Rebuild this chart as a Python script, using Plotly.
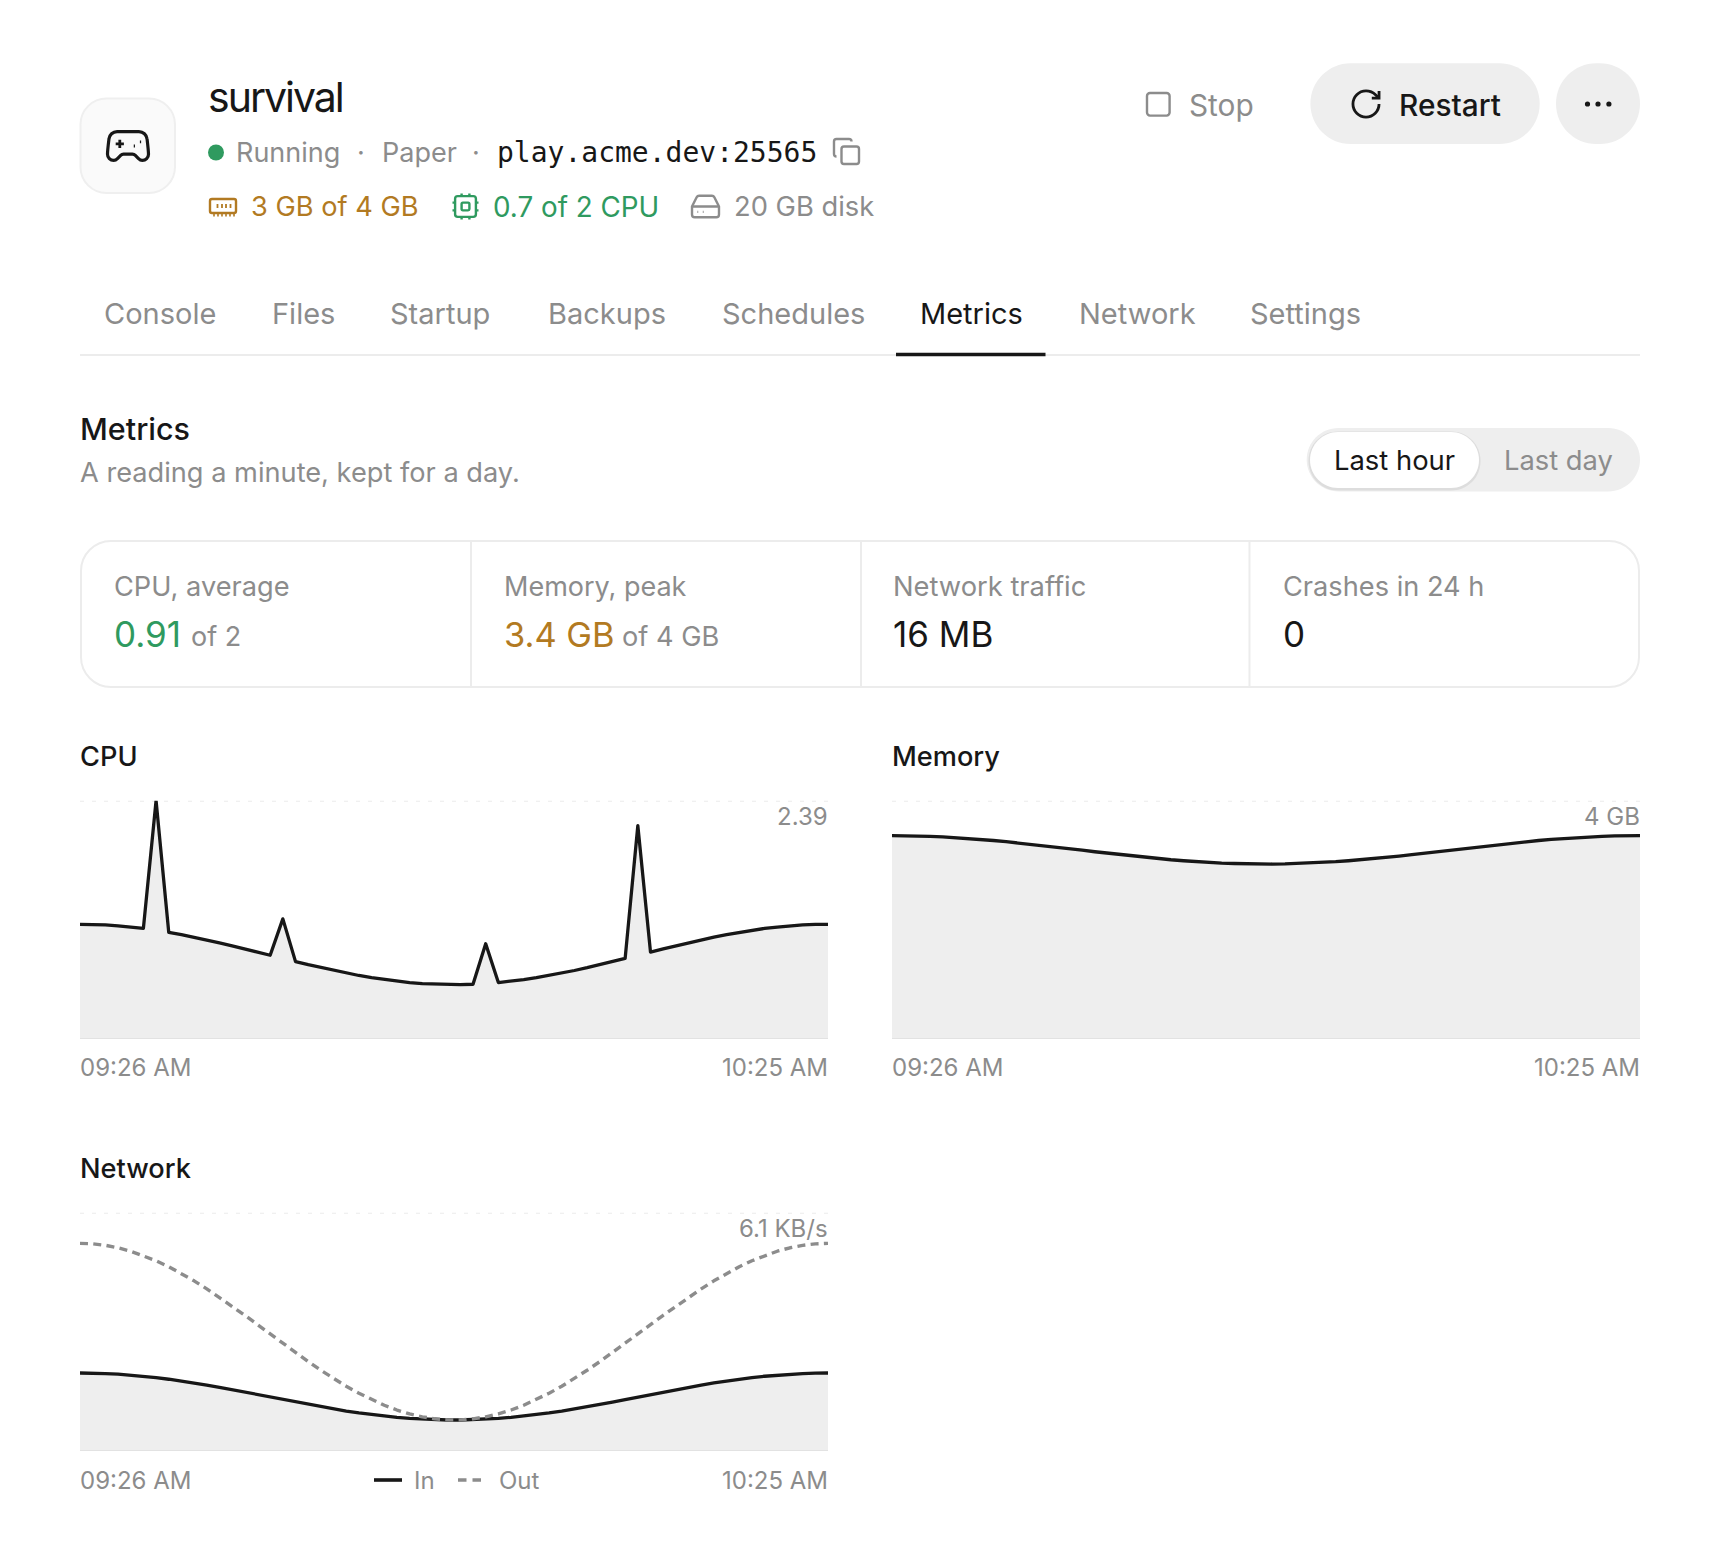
import re

import pandas as pd
import plotly.graph_objects as go

# Page size, everything outside the charts is placed in page pixels
W = 1720
H = 1560

# One reading a minute, 09:26 to 10:25
MINUTES = pd.date_range("2024-01-01 09:26", periods=60, freq="min")

CPU = [
    1.150, 1.149, 1.144, 1.135, 1.123, 1.109, 2.390, 1.070, 1.047, 1.022,
    0.994, 0.965, 0.935, 0.904, 0.872, 0.840, 1.205, 0.776, 0.745, 0.716,
    0.688, 0.661, 0.637, 0.615, 0.596, 0.580, 0.566, 0.556, 0.550, 0.546,
    0.546, 0.549, 0.955, 0.566, 0.579, 0.596, 0.615, 0.637, 0.661, 0.687,
    0.715, 0.745, 0.776, 0.808, 2.140, 0.872, 0.904, 0.935, 0.965, 0.994,
    1.022, 1.047, 1.070, 1.090, 1.109, 1.123, 1.135, 1.144, 1.149, 1.150,
]
MEMORY = [
    3.413, 3.412, 3.408, 3.401, 3.392, 3.380, 3.366, 3.350, 3.332, 3.312,
    3.290, 3.267, 3.244, 3.219, 3.194, 3.169, 3.143, 3.119, 3.094, 3.071,
    3.049, 3.028, 3.009, 2.992, 2.977, 2.964, 2.953, 2.946, 2.940, 2.937,
    2.937, 2.940, 2.946, 2.953, 2.964, 2.977, 2.992, 3.009, 3.028, 3.049,
    3.071, 3.094, 3.119, 3.143, 3.169, 3.194, 3.219, 3.244, 3.267, 3.290,
    3.312, 3.332, 3.350, 3.366, 3.380, 3.392, 3.401, 3.408, 3.412, 3.413,
]
NET_IN = [
    1.997, 1.994, 1.983, 1.967, 1.943, 1.914, 1.878, 1.837, 1.791, 1.741,
    1.687, 1.629, 1.568, 1.506, 1.443, 1.379, 1.315, 1.252, 1.191, 1.132,
    1.076, 1.023, 0.975, 0.932, 0.893, 0.861, 0.835, 0.815, 0.801, 0.794,
    0.794, 0.801, 0.815, 0.835, 0.861, 0.893, 0.932, 0.975, 1.023, 1.076,
    1.132, 1.191, 1.252, 1.315, 1.379, 1.443, 1.506, 1.568, 1.629, 1.687,
    1.741, 1.791, 1.837, 1.878, 1.914, 1.943, 1.967, 1.983, 1.994, 1.997,
]
NET_OUT = [
    5.316, 5.303, 5.265, 5.202, 5.114, 5.003, 4.870, 4.717, 4.544, 4.356,
    4.150, 3.933, 3.707, 3.474, 3.235, 2.995, 2.755, 2.518, 2.288, 2.066,
    1.856, 1.658, 1.479, 1.315, 1.171, 1.049, 0.950, 0.875, 0.824, 0.797,
    0.797, 0.824, 0.875, 0.950, 1.049, 1.171, 1.315, 1.479, 1.658, 1.856,
    2.066, 2.288, 2.518, 2.755, 2.995, 3.235, 3.474, 3.707, 3.933, 4.150,
    4.356, 4.544, 4.717, 4.870, 5.003, 5.114, 5.202, 5.265, 5.303, 5.316,
]

CPU_MAX = 2.39
MEMORY_MAX = 4
NET_MAX = 6.1

TABS = ["Console", "Files", "Startup", "Backups", "Schedules", "Metrics", "Network", "Settings"]
TAB_X = [104, 272, 389.5, 547.5, 721.5, 920, 1078.5, 1249.5]

DARK = "#171717"
GRAY = "#8c8c8c"
AMBER = "#b27a22"
GREEN = "#2f9a5f"
BAND = "#eeeeee"
RULE = "#ececec"
NONE = "rgba(0,0,0,0)"
SANS = "Inter"


def fx(x):
    return x / W


def fy(y):
    return 1 - y / H


def to_paper(path, ox=0, oy=0, k=1):
    # page pixel path to paper coordinates, only absolute M L C Z used here
    out = []
    for cmd, args in re.findall(r"([MLCZ])([^MLCZ]*)", path):
        nums = [float(n) for n in args.split()]
        pts = [f"{fx(ox + n * k):.5f}" if i % 2 == 0 else f"{fy(oy + n * k):.5f}" for i, n in enumerate(nums)]
        out.append(cmd + " ".join(pts))
    return " ".join(out)


def rr(x, y, w, h, r):
    c = r * 0.448
    return (
        f"M{x + r} {y} L{x + w - r} {y} C{x + w - c} {y} {x + w} {y + c} {x + w} {y + r} "
        f"L{x + w} {y + h - r} C{x + w} {y + h - c} {x + w - c} {y + h} {x + w - r} {y + h} "
        f"L{x + r} {y + h} C{x + c} {y + h} {x} {y + h - c} {x} {y + h - r} "
        f"L{x} {y + r} C{x} {y + c} {x + c} {y} {x + r} {y} Z"
    )


shapes = []
notes = []


def draw(path, stroke=None, fill=NONE, width=2, ox=0, oy=0, k=1):
    shapes.append(dict(
        type="path", xref="paper", yref="paper", layer="below",
        path=to_paper(path, ox, oy, k), fillcolor=fill,
        line=dict(color=stroke or NONE, width=width if stroke else 0),
    ))


def dot(cx, cy, r, color):
    shapes.append(dict(
        type="circle", xref="paper", yref="paper", layer="below",
        x0=fx(cx - r), x1=fx(cx + r), y0=fy(cy + r), y1=fy(cy - r),
        fillcolor=color, line=dict(width=0),
    ))


def label(x, y, text, size, color=GRAY, weight=400, anchor="left", family=SANS):
    notes.append(dict(
        xref="paper", yref="paper", x=fx(x), y=fy(y), text=text, showarrow=False,
        xanchor=anchor, yanchor="middle", borderpad=0, borderwidth=0,
        font=dict(family=family, size=size, color=color, weight=weight),
    ))


# header
draw(rr(80.5, 98.5, 94.5, 94.5, 26), stroke="#efefef", fill="#fafafa", width=2)
GAMEPAD = (
    "M17.32 5 L6.68 5 C4.6 5 2.9 6.55 2.7 8.59 L2.69 8.74 C2.6 9.42 2 14.46 2 16 "
    "C2 17.66 3.34 19 5 19 C6 19 6.5 18.5 7 18 L8.41 16.59 C8.79 16.21 9.3 16 9.83 16 "
    "L14.17 16 C14.7 16 15.21 16.21 15.59 16.59 L17 18 C17.5 18.5 18 19 19 19 "
    "C20.66 19 22 17.66 22 16 C22 14.46 21.4 9.42 21.32 8.74 L21.3 8.59 C21.1 6.55 19.4 5 17.32 5 Z"
)
draw(GAMEPAD, DARK, width=3.2, ox=103.4, oy=121.4, k=2.05)
draw("M6 11 L10 11 M8 9 L8 13 M14.8 12 L15.4 12 M17.8 10 L18.4 10", DARK, width=2.8, ox=103.4, oy=121.4, k=2.05)

label(208, 97, '<span style="letter-spacing:-2px">survival</span>', 41, DARK, 400)
dot(216, 152.5, 8, GREEN)
label(236, 152.5, "Running", 27)
label(361, 152.5, "·", 27, anchor="center")
label(382, 152.5, "Paper", 27)
label(476, 152.5, "·", 27, anchor="center")
label(497, 152.5, "play.acme.dev:25565", 28, DARK, family="DejaVu Sans Mono")
draw(rr(8, 8, 14, 14, 2), GRAY, width=2.4, ox=831.5, oy=136.5, k=1.25)
draw("M4 16 C2.9 16 2 15.1 2 14 L2 4 C2 2.9 2.9 2 4 2 L14 2 C15.1 2 16 2.9 16 4", GRAY, width=2.4, ox=831.5, oy=136.5, k=1.25)

# resource row
draw(rr(210, 199, 26, 14, 2), AMBER, width=2.4)
draw("M217.5 204 L217.5 208 M222 204 L222 208 M226 204 L226 208 M230.5 204 L230.5 208", AMBER, width=1.8)
draw("M214 213 L214 216.5 M218 213 L218 216.5 M222 213 L222 216.5 M226 213 L226 216.5 M230 213 L230 216.5 M234 213 L234 216.5", AMBER, width=1.6)
label(251, 207, "3 GB of 4 GB", 27.2, AMBER)
draw(rr(4, 4, 16, 16, 2), GREEN, width=2.4, ox=449.9, oy=190.9, k=1.3)
draw(rr(9, 9, 6, 6, 1), GREEN, width=2.4, ox=449.9, oy=190.9, k=1.3)
draw("M15 2 L15 4 M15 20 L15 22 M2 15 L4 15 M2 9 L4 9 M20 15 L22 15 M20 9 L22 9 M9 2 L9 4 M9 20 L9 22", GREEN, width=2.4, ox=449.9, oy=190.9, k=1.3)
label(493, 207, "0.7 of 2 CPU", 27.8, GREEN)
draw("M5.45 5.11 L2 12 L2 18 C2 19.1 2.9 20 4 20 L20 20 C21.1 20 22 19.1 22 18 L22 12 L18.55 5.11 C18.21 4.43 17.52 4 16.76 4 L7.24 4 C6.48 4 5.79 4.43 5.45 5.11 Z", GRAY, width=2.4, ox=689.3, oy=190.3, k=1.35)
draw("M2 12 L22 12 M6 16 L6.6 16 M10 16 L10.6 16", GRAY, width=2.4, ox=689.3, oy=190.3, k=1.35)
label(734, 207, "20 GB disk", 27.3)

# buttons
draw(rr(1147, 93, 22.6, 22.6, 3), GRAY, width=2.4)
label(1189, 105, "Stop", 29.8)
draw(rr(1310.4, 63.3, 229.3, 80.7, 40.3), fill=BAND)
draw("M21 12 C21 16.97 16.97 21 12 21 C7.03 21 3 16.97 3 12 C3 7.03 7.03 3 12 3 C14.52 3 16.93 4 18.74 5.74 L21 8", DARK, width=2.8, ox=1348.6, oy=86.6, k=1.45)
draw("M21 3 L21 8 L16 8", DARK, width=2.8, ox=1348.6, oy=86.6, k=1.45)
label(1399, 105, "Restart", 29.8, DARK, 500)
draw(rr(1556, 63.3, 84, 80.7, 40.3), fill=BAND)
for cx in [1587.5, 1598, 1608.9]:
    dot(cx, 104, 2.6, DARK)

# tabs
for name, x in zip(TABS, TAB_X):
    label(x, 313.5, name, 29, DARK if name == "Metrics" else GRAY)
draw("M80 355 L1640 355", RULE, width=2)
draw("M896 354.5 L1045.5 354.5", DARK, width=3.4)

# section head and range switch
label(80, 428, "Metrics", 30.5, DARK, 500)
label(80, 472, "A reading a minute, kept for a day.", 27.2)
draw(rr(1306.7, 428, 333.3, 63.5, 31.7), fill=BAND)
draw(rr(1308.5, 431.5, 172, 59, 29), fill="rgba(0,0,0,0.07)")
draw(rr(1310, 432, 169, 56, 28), fill="#ffffff")
label(1334, 460, "Last hour", 27.4, DARK)
label(1504, 460, "Last day", 27.3)

# stat card
draw(rr(81, 541, 1558, 146, 30), RULE, fill="#ffffff", width=2)
for x in [471, 861, 1249.5]:
    draw(f"M{x} 541 L{x} 687", RULE, width=2)
label(114, 586.5, "CPU, average", 27.2)
label(503.5, 586.5, "Memory, peak", 27)
label(893, 586.5, "Network traffic", 27.3)
label(1282.5, 586.5, "Crashes in 24 h", 27.2)
label(114, 634, "0.91", 35, GREEN)
label(190.5, 636, "of 2", 27)
label(503.5, 634, "3.4 GB", 34.4, AMBER)
label(622, 636, "of 4 GB", 27.2)
label(893, 634, "16 MB", 35, DARK)
label(1282.5, 634, "0", 35, DARK)

# chart heads and edge labels
start_label = MINUTES[0].strftime("%I:%M %p")
end_label = MINUTES[-1].strftime("%I:%M %p")

label(80, 756, "CPU", 27.2, DARK, 500)
label(892, 756, "Memory", 27.2, DARK, 500)
label(80, 1168, "Network", 27.2, DARK, 500)

label(828, 816, f"{CPU_MAX}", 24, anchor="right")
label(1640, 816, f"{MEMORY_MAX} GB", 24, anchor="right")
label(828, 1228, f"{NET_MAX} KB/s", 24, anchor="right")

for left, right, y in [(80, 828, 1067), (892, 1640, 1067), (80, 828, 1480)]:
    label(left, y, start_label, 24)
    label(right, y, end_label, 24, anchor="right")

# network key
draw("M374 1480 L402 1480", DARK, width=3.6)
label(413.5, 1480, "In", 24)
draw("M458 1480 L466.5 1480 M472.5 1480 L481 1480", GRAY, width=3.6)
label(499, 1480, "Out", 24)

fig = go.Figure()

for ys, axis in [(CPU, ""), (MEMORY, "2"), (NET_IN, "3")]:
    fig.add_trace(go.Scatter(
        x=MINUTES, y=ys, mode="lines", xaxis="x" + axis, yaxis="y" + axis,
        line=dict(color=DARK, width=3.3), fill="tozeroy", fillcolor=BAND,
        cliponaxis=False, showlegend=False,
    ))

fig.add_trace(go.Scatter(
    x=MINUTES, y=NET_OUT, mode="lines", xaxis="x3", yaxis="y3",
    line=dict(color=GRAY, width=3.4, dash="8px,5.3px"),
    cliponaxis=False, showlegend=False,
))

# dotted line at each chart's maximum, solid one at its zero
for axis, top in [("", CPU_MAX), ("2", MEMORY_MAX), ("3", NET_MAX)]:
    shapes.append(dict(
        type="line", xref=f"x{axis} domain", yref="y" + axis,
        x0=0, x1=1, y0=top, y1=top, layer="below",
        line=dict(color="#ebebeb", width=2, dash="4px,8px"),
    ))
    shapes.append(dict(
        type="line", xref=f"x{axis} domain", yref="y" + axis,
        x0=0, x1=1, y0=0, y1=0, layer="above",
        line=dict(color="#e2e2e2", width=2),
    ))


def x_axis(left, right, anchor):
    return dict(
        domain=[fx(left), fx(right)], anchor=anchor, range=[MINUTES[0], MINUTES[-1]],
        showticklabels=False, ticks="", showgrid=False, zeroline=False, showline=False,
    )


def y_axis(bottom, top_px, top, anchor):
    return dict(
        domain=[fy(bottom), fy(top_px)], anchor=anchor, range=[0, top],
        showticklabels=False, ticks="", showgrid=False, zeroline=False, showline=False,
    )


fig.update_layout(
    width=W, height=H, margin=dict(l=0, r=0, t=0, b=0),
    paper_bgcolor="#ffffff", plot_bgcolor="rgba(0,0,0,0)",
    font=dict(family=SANS),
    xaxis=x_axis(80, 828, "y"), yaxis=y_axis(1039, 800.7, CPU_MAX, "x"),
    xaxis2=x_axis(892, 1640, "y2"), yaxis2=y_axis(1039, 800.7, MEMORY_MAX, "x2"),
    xaxis3=x_axis(80, 828, "y3"), yaxis3=y_axis(1451, 1212.7, NET_MAX, "x3"),
    shapes=shapes, annotations=notes,
)

# no page margin, rounded joins so the peaks keep their tips
page_css = (
    "document.body.style.margin='0';"
    "var s=document.createElement('style');"
    "s.textContent='path.js-line{stroke-linejoin:round !important}';"
    "document.head.appendChild(s);"
)
fig.write_html("out.html", config=dict(displayModeBar=False), post_script=page_css)
